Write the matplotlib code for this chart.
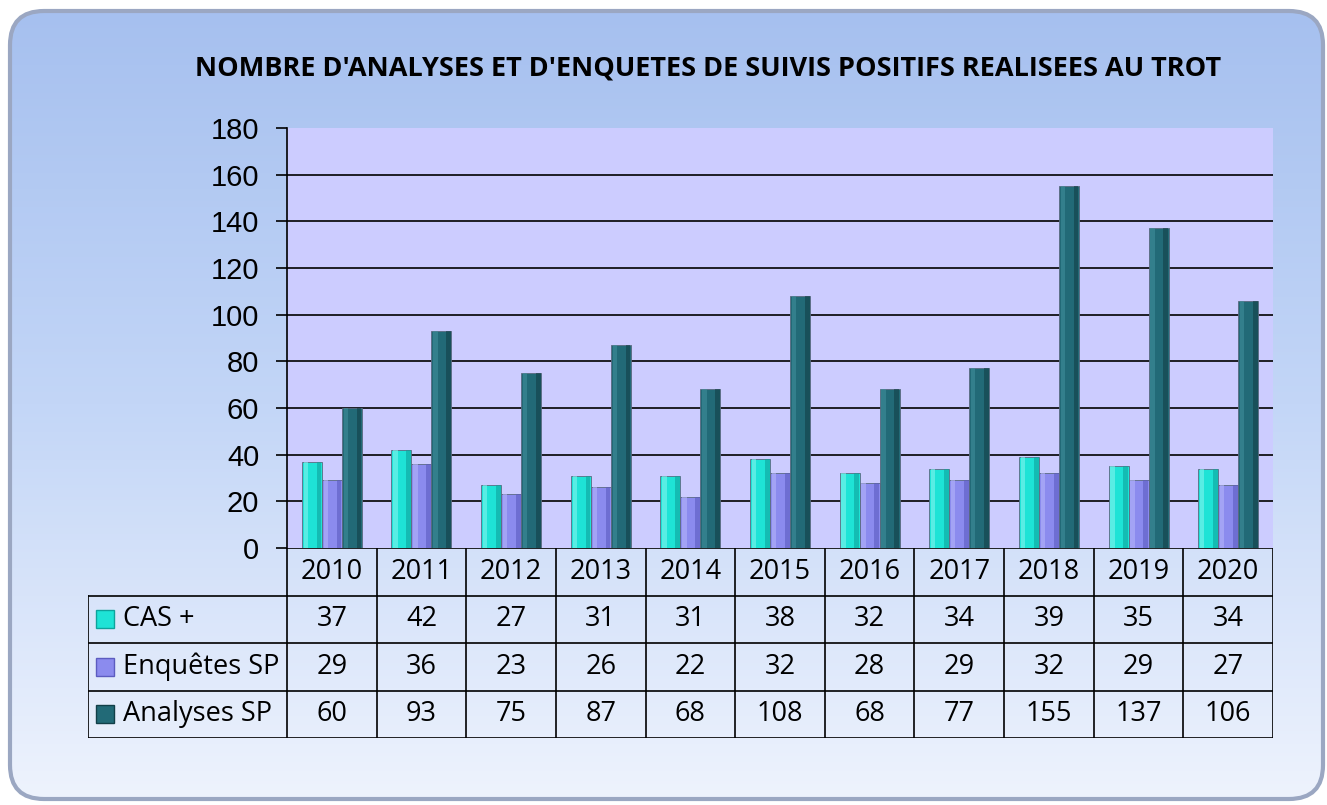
import numpy as np
import matplotlib
matplotlib.use('Agg')
from matplotlib import pyplot as plt
from matplotlib.patches import FancyBboxPatch, Rectangle
from matplotlib.colors import LinearSegmentedColormap

# données
annees = ['2010', '2011', '2012', '2013', '2014', '2015', '2016', '2017', '2018', '2019', '2020']
cas_plus = [37, 42, 27, 31, 31, 38, 32, 34, 39, 35, 34]
enquetes_sp = [29, 36, 23, 26, 22, 32, 28, 29, 32, 29, 27]
analyses_sp = [60, 93, 75, 87, 68, 108, 68, 77, 155, 137, 106]
series = ['CAS +', 'Enquêtes SP', 'Analyses SP']
titre = "NOMBRE D'ANALYSES ET D'ENQUETES DE SUIVIS POSITIFS REALISEES AU TROT"

couleurs = ['#1ee3d6', '#8b8bee', '#226a77']
clairs = ['#7ff5ee', '#b4b4fa', '#3f8e9b']
sombres = ['#0ea39c', '#5c5cc0', '#123f48']

W, H = 1327, 805
fig = plt.figure(figsize=(W / 100, H / 100), dpi=100)

# fond arrondi en dégradé
bg = fig.add_axes([0, 0, 1, 1], zorder=-10)
bg.set_xlim(0, W)
bg.set_ylim(H, 0)
bg.axis('off')
cadre = FancyBboxPatch((10, 11), W - 14, H - 17, boxstyle='round,pad=0,rounding_size=34',
                       fc='none', ec='#9ba7c2', lw=3, transform=bg.transData)
bg.add_patch(cadre)
cmap = LinearSegmentedColormap.from_list('fond', ['#a6c0ef', '#c3d6f7', '#eef3fd'])
grad = np.linspace(0, 1, 256).reshape(-1, 1)
im = bg.imshow(grad, cmap=cmap, extent=[10, W - 4, H - 6, 11], aspect='auto')
im.set_clip_path(cadre)

# zone du graphique
x0, x1, y0, y1 = 287, 1273, 128, 548
ax = fig.add_axes([x0 / W, 1 - y1 / H, (x1 - x0) / W, (y1 - y0) / H])
ax.set_facecolor('#ccccff')
x = np.arange(len(annees))
w = 0.223
valeurs = [cas_plus, enquetes_sp, analyses_sp]
for i, vals in enumerate(valeurs):
    pos = x + (i - 1) * w
    ax.bar(pos, vals, w, color=couleurs[i], edgecolor='#5a6a80', lw=0.6, zorder=3)
    ax.bar(pos - w * 0.3, vals, w * 0.22, color=clairs[i], lw=0, zorder=4, alpha=0.6)
    ax.bar(pos + w * 0.36, vals, w * 0.24, color=sombres[i], lw=0, zorder=4, alpha=0.6)

ax.set_xlim(-0.5, len(annees) - 0.5)
ax.set_ylim(0, 180)
ax.set_yticks(range(0, 181, 20))
for v in range(20, 161, 20):
    ax.axhline(v, color='black', lw=1.2, zorder=1)
ax.set_xticks([])
for s in ['top', 'right', 'bottom']:
    ax.spines[s].set_visible(False)
ax.spines['left'].set_linewidth(1.2)
ax.tick_params(axis='y', length=8, width=1.2, pad=12, labelsize=21)
for lab in ax.get_yticklabels():
    lab.set_fontfamily('Liberation Sans')

fig.text(708 / W, 1 - 68 / H, titre, ha='center', va='center', fontsize=19.5,
         fontweight='bold', family='Open Sans')

# tableau de données
tx0, ty1 = 88, 738
tab = fig.add_axes([tx0 / W, 1 - ty1 / H, (x1 - tx0) / W, (ty1 - y1) / H])
gauche = -0.5 - (x0 - tx0) / ((x1 - x0) / len(annees))
tab.set_xlim(gauche, len(annees) - 0.5)
tab.set_ylim(4, 0)
tab.axis('off')
tab.patch.set_alpha(0)
lk = dict(color='black', lw=1.2)
tab.plot([-0.5, len(annees) - 0.5], [0, 0], **lk)
for r in range(1, 5):
    tab.plot([gauche, len(annees) - 0.5], [r, r], **lk)
tab.plot([gauche, gauche], [1, 4], **lk)
for c in range(len(annees) + 1):
    tab.plot([c - 0.5, c - 0.5], [0, 4], **lk)
police = dict(family='Open Sans', fontsize=19.5, va='center')
for j, a in enumerate(annees):
    tab.text(j, 0.5, a, ha='center', **police)
for i, vals in enumerate(valeurs):
    for j, v in enumerate(vals):
        tab.text(j, i + 1.5, str(v), ha='center', **police)
    tab.add_patch(Rectangle((gauche + 0.09, i + 1.5 - 0.19), 0.2, 0.38,
                            fc=couleurs[i], ec=sombres[i], lw=1))
    tab.text(gauche + 0.39, i + 1.5, series[i], ha='left', **police)

fig.savefig('out.png', dpi=100)
